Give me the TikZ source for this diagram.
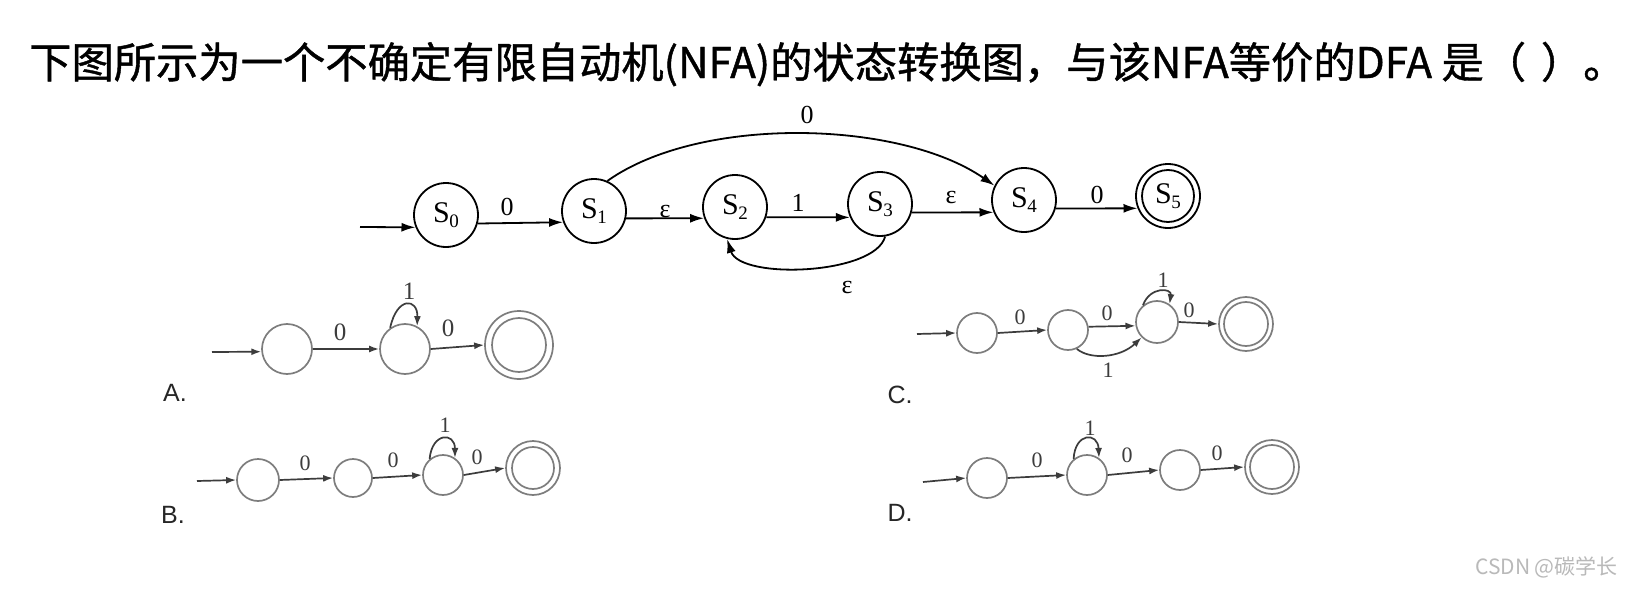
\documentclass[tikz,border=0pt]{standalone}
\usepackage{fontspec}
\setmainfont{Liberation Serif}
\newfontfamily\cjkfont{Noto Sans CJK SC}
\newfontfamily\cjktitle[FakeBold=1.0]{Noto Sans CJK SC}
\newfontfamily\sansf{Liberation Sans}
\usetikzlibrary{arrows.meta}
\definecolor{og}{RGB}{125,125,125}
\definecolor{ot}{RGB}{60,60,60}
\definecolor{wm}{RGB}{185,185,185}
\newcommand\Ssub[1]{S\kern-0.5pt\raisebox{-5pt}{\fontsize{19}{19}\selectfont #1}}
\begin{document}
\begin{tikzpicture}[x=1pt,y=-1pt,
  st/.style={circle, draw, line width=1.8pt, minimum size=64pt, inner sep=0pt, font=\fontsize{30}{30}\selectfont},
  arr/.style={line width=1.8pt, -{Latex[length=14pt,width=9pt]}},
  lbl/.style={font=\fontsize{26}{26}\selectfont, inner sep=0pt},
  ost/.style={circle, draw=og, line width=1.7pt, inner sep=0pt},
  oarr/.style={line width=1.7pt, draw=og, -{Latex[length=10pt,width=7pt]}, color=ot},
  olbl/.style={font=\fontsize{22}{22}\selectfont, text=ot, inner sep=0pt},
  olet/.style={font=\sansf\fontsize{25}{25}\selectfont, text=black!85, inner sep=0pt}]
\fill[white] (0,0) rectangle (1626,594);
\useasboundingbox (0,0) rectangle (1626,594);

% title
\node[anchor=base west, inner sep=0pt, font=\cjktitle\fontsize{42.3}{42.3}\selectfont] (title) at (29,78)
  {下图所示为一个不确定有限自动机(NFA)的状态转换图，与该NFA等价的DFA 是（\hspace{0.35em}）。};

% ---------- NFA ----------
\node[st] (s0) at (446,215) {\Ssub0};
\node[st] (s1) at (594,211) {\Ssub1};
\node[st] (s2) at (735,207) {\Ssub2};
\node[st] (s3) at (880,204) {\Ssub3};
\node[st] (s4) at (1024,200) {\Ssub4};
\node[st] (s5) at (1168,196) {\Ssub5};
\draw[line width=1.8pt] (s5.center) circle[radius=26pt];
\coordinate (i0) at (360,227);
\draw[arr] (i0) -- (s0.202);
\draw[arr] (s0.-15) -- (s1.200);
\draw[arr] (s1.-13) -- (s2.200);
\draw[arr] (s2.-18) -- (s3.204);
\draw[arr] (s3.-15) -- (s4.202);
\draw[arr] (s4.-15) -- (s5.202);
\draw[arr] (s1.66) .. controls (700,115) and (900,120) .. (s4.154);
\draw[arr] (s3.-81) .. controls (875,275) and (740,280) .. (s2.-104);
\node[lbl] (l01) at (507,207) {0};
\node[lbl] (l12) at (665,211) {ε};
\node[lbl] (l23) at (798,203) {1};
\node[lbl] (l34) at (951,198) {ε};
\node[lbl] (l45) at (1097,195) {0};
\node[lbl] (l14) at (807,115) {0};
\node[lbl] (l32) at (847,287) {ε};

% ---------- A ----------
\node[ost, minimum size=50pt] (a1) at (287,349) {};
\node[ost, minimum size=50pt] (a2) at (405,349) {};
\node[ost, minimum size=68pt] (a3) at (519,345) {};
\draw[draw=og, line width=1.7pt] (a3.center) circle[radius=27pt];
\coordinate (ia) at (212,352);
\draw[oarr] (ia) -- (a1.186);
\draw[oarr] (a1.east) -- (a2.west);
\draw[oarr] (a2.east) -- (a3.west);
\draw[oarr] (a2.125) .. controls (397,296) and (418,298) .. (a2.62);
\node[olbl, font=\fontsize{25}{25}\selectfont] (la1) at (340,332) {0};
\node[olbl, font=\fontsize{25}{25}\selectfont] (la2) at (409,291) {1};
\node[olbl, font=\fontsize{25}{25}\selectfont] (la3) at (448,328) {0};
\node[olet] (letA) at (175,393) {A.};

% ---------- B ----------
\node[ost, minimum size=42pt] (b1) at (258,480) {};
\node[ost, minimum size=38pt] (b2) at (353,478) {};
\node[ost, minimum size=40pt] (b3) at (443,475) {};
\node[ost, minimum size=54pt] (b4) at (533,468) {};
\draw[draw=og, line width=1.7pt] (b4.center) circle[radius=21pt];
\coordinate (ib) at (197,481);
\draw[oarr] (ib) -- (b1.west);
\draw[oarr] (b1.east) -- (b2.west);
\draw[oarr] (b2.east) -- (b3.west);
\draw[oarr] (b3.east) -- (b4.west);
\draw[oarr] (b3.130) .. controls (432,432) and (455,432) .. (b3.55);
\node[olbl] (lb1) at (305,463) {0};
\node[olbl] (lb2) at (393,460) {0};
\node[olbl] (lb3) at (445,425) {1};
\node[olbl] (lb4) at (477,457) {0};
\node[olet] (letB) at (173,515) {B.};

% ---------- C ----------
\node[ost, minimum size=40pt] (c1) at (977,333) {};
\node[ost, minimum size=40pt] (c2) at (1068,330) {};
\node[ost, minimum size=42pt] (c3) at (1157,322) {};
\node[ost, minimum size=54pt] (c4) at (1246,324) {};
\draw[draw=og, line width=1.7pt] (c4.center) circle[radius=22pt];
\coordinate (ic) at (917,334);
\draw[oarr] (ic) -- (c1.west);
\draw[oarr] (c1.east) -- (c2.west);
\draw[oarr] (c2.9) -- (c3.190);
\draw[oarr] (c2.-65) .. controls (1090,360) and (1120,358) .. (c3.-135);
\draw[oarr] (c3.east) -- (c4.west);
\draw[oarr] (c3.130) .. controls (1150,286) and (1172,288) .. (c3.55);
\node[olbl] (lc1) at (1020,317) {0};
\node[olbl] (lc2) at (1107,313) {0};
\node[olbl] (lc3) at (1108,370) {1};
\node[olbl] (lc4) at (1163,280) {1};
\node[olbl] (lc5) at (1189,310) {0};
\node[olet] (letC) at (900,395) {C.};

% ---------- D ----------
\node[ost, minimum size=40pt] (d1) at (987,478) {};
\node[ost, minimum size=40pt] (d2) at (1087,475) {};
\node[ost, minimum size=40pt] (d3) at (1180,470) {};
\node[ost, minimum size=54pt] (d4) at (1272,467) {};
\draw[draw=og, line width=1.7pt] (d4.center) circle[radius=22pt];
\coordinate (id) at (923,482);
\draw[oarr] (id) -- (d1.west);
\draw[oarr] (d1.east) -- (d2.west);
\draw[oarr] (d2.east) -- (d3.west);
\draw[oarr] (d3.east) -- (d4.west);
\draw[oarr] (d2.130) .. controls (1075,432) and (1098,432) .. (d2.55);
\node[olbl] (ld1) at (1037,460) {0};
\node[olbl] (ld2) at (1090,428) {1};
\node[olbl] (ld3) at (1127,455) {0};
\node[olbl] (ld4) at (1217,453) {0};
\node[olet] (letD) at (900,513) {D.};

% watermark
\node[anchor=east, inner sep=0pt, text=wm, font=\cjkfont\fontsize{21}{21}\selectfont] (wmk) at (1618,567) {CSDN @碳学长};
\end{tikzpicture}
\end{document}
